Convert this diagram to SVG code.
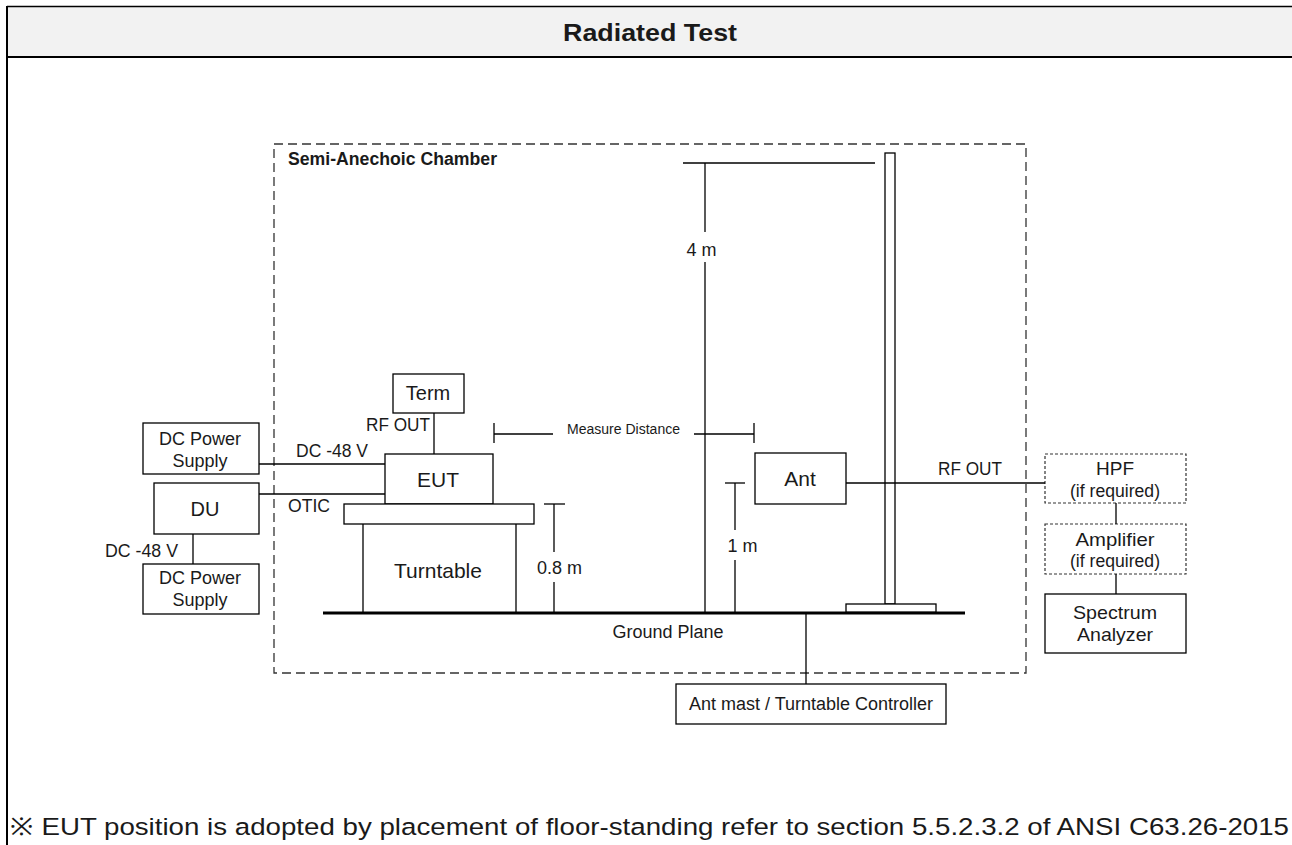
<svg xmlns="http://www.w3.org/2000/svg" width="1292" height="845" viewBox="0 0 1292 845">
<style>
text{font-family:"Liberation Sans",Arial,sans-serif;fill:#1a1a1a}
.t{font-size:20px;text-anchor:middle}
.s{font-size:18px}
.m{text-anchor:middle}
.box{fill:#fff;stroke:#000;stroke-width:1.3}
.dbox{fill:#fff;stroke:#333;stroke-width:1.2;stroke-dasharray:3,2}
.ln{stroke:#000;stroke-width:1.3;fill:none}
</style>
<rect x="0" y="0" width="1292" height="845" fill="#fff"/>
<rect x="7" y="6.5" width="1290" height="50" fill="#f2f2f2"/>
<line x1="7" y1="6.5" x2="1292" y2="6.5" stroke="#000" stroke-width="1.3"/>
<line x1="7" y1="57" x2="1292" y2="57" stroke="#000" stroke-width="2.2"/>
<line x1="7" y1="6" x2="7" y2="845" stroke="#000" stroke-width="2"/>
<text x="650" y="40.5" font-size="24" font-weight="bold" text-anchor="middle" textLength="174" lengthAdjust="spacingAndGlyphs">Radiated Test</text>

<g id="chamber">
<rect x="274" y="144" width="752" height="529" fill="none" stroke="#333" stroke-width="1.3" stroke-dasharray="9,5"/>
<text x="288" y="165" font-size="17.5" font-weight="bold" textLength="209" lengthAdjust="spacingAndGlyphs">Semi-Anechoic Chamber</text>
</g>

<g id="ground">
<line x1="323" y1="613" x2="965" y2="613" stroke="#000" stroke-width="3"/>
<text x="668" y="637.5" class="s m" textLength="111" lengthAdjust="spacingAndGlyphs">Ground Plane</text>
</g>

<g id="mast">
<rect x="885" y="153" width="10" height="451" class="box"/>
<rect x="846" y="604" width="90" height="8" class="box"/>
</g>

<g id="term"><rect x="393" y="374" width="71" height="39" class="box"/><text x="428" y="400" class="t">Term</text></g>
<g id="eut"><rect x="385" y="454" width="108" height="50" class="box"/><text x="438" y="486.5" font-size="21" class="m">EUT</text></g>
<g id="turntable">
<rect x="344" y="504" width="190" height="20" class="box"/>
<line x1="363" y1="524" x2="363" y2="613" class="ln"/>
<line x1="516" y1="524" x2="516" y2="613" class="ln"/>
<text x="438" y="577.5" font-size="21" class="m">Turntable</text>
</g>
<g id="dcps1"><rect x="143" y="423" width="116" height="51" class="box"/><text x="200" y="444.5" class="s m">DC Power</text><text x="200" y="466.5" class="s m">Supply</text></g>
<g id="du"><rect x="154" y="483" width="105" height="51" class="box"/><text x="205" y="515.5" class="t">DU</text></g>
<g id="dcps2"><rect x="143" y="564" width="116" height="50" class="box"/><text x="200" y="583.5" class="s m">DC Power</text><text x="200" y="605.5" class="s m">Supply</text></g>
<g id="ant"><rect x="755" y="453" width="91" height="51" class="box"/><text x="800" y="486" font-size="21" class="m">Ant</text></g>
<g id="hpf"><rect x="1045" y="454" width="141" height="49" class="dbox"/><text x="1115" y="474.5" font-size="19" class="m">HPF</text><text x="1115" y="496.5" font-size="18" class="m" textLength="90" lengthAdjust="spacingAndGlyphs">(if required)</text></g>
<g id="amp"><rect x="1045" y="524" width="141" height="50" class="dbox"/><text x="1115" y="545.5" font-size="19" class="m" textLength="79" lengthAdjust="spacingAndGlyphs">Amplifier</text><text x="1115" y="566.5" font-size="18" class="m" textLength="90" lengthAdjust="spacingAndGlyphs">(if required)</text></g>
<g id="sa"><rect x="1045" y="594" width="141" height="59" class="box"/><text x="1115" y="618.5" font-size="19" class="m" textLength="84" lengthAdjust="spacingAndGlyphs">Spectrum</text><text x="1115" y="640.5" font-size="19" class="m" textLength="76" lengthAdjust="spacingAndGlyphs">Analyzer</text></g>
<g id="controller"><rect x="676" y="684" width="270" height="40" class="box"/><text x="811" y="709.5" class="s m" textLength="244" lengthAdjust="spacingAndGlyphs">Ant mast / Turntable Controller</text></g>

<g id="connectors">
<line x1="434" y1="413" x2="434" y2="454" class="ln"/>
<line x1="259" y1="464" x2="385" y2="464" class="ln"/>
<line x1="259" y1="494" x2="385" y2="494" class="ln"/>
<line x1="193" y1="534" x2="193" y2="564" class="ln"/>
<line x1="846" y1="483" x2="1045" y2="483" class="ln"/>
<line x1="1116" y1="503" x2="1116" y2="524" class="ln"/>
<line x1="1116" y1="574" x2="1116" y2="594" class="ln"/>
<line x1="806" y1="613" x2="806" y2="684" class="ln"/>
<line x1="683" y1="163" x2="875" y2="163" class="ln"/>
<line x1="705" y1="163" x2="705" y2="232" class="ln"/>
<line x1="705" y1="262" x2="705" y2="613" class="ln"/>
<line x1="494" y1="423" x2="494" y2="443" class="ln"/>
<line x1="494" y1="434" x2="553" y2="434" class="ln"/>
<line x1="694" y1="434" x2="754" y2="434" class="ln"/>
<line x1="754" y1="423" x2="754" y2="443" class="ln"/>
<line x1="544" y1="504" x2="565" y2="504" class="ln"/>
<line x1="554" y1="504" x2="554" y2="552" class="ln"/>
<line x1="554" y1="582" x2="554" y2="613" class="ln"/>
<line x1="725" y1="483" x2="745" y2="483" class="ln"/>
<line x1="735" y1="483" x2="735" y2="530" class="ln"/>
<line x1="735" y1="560" x2="735" y2="613" class="ln"/>
</g>

<g id="labels">
<text x="366" y="430.5" class="s" textLength="64" lengthAdjust="spacingAndGlyphs">RF OUT</text>
<text x="296" y="456.5" class="s" textLength="72" lengthAdjust="spacingAndGlyphs">DC -48 V</text>
<text x="288" y="511.5" class="s" textLength="42" lengthAdjust="spacingAndGlyphs">OTIC</text>
<text x="105" y="556.5" class="s" textLength="73" lengthAdjust="spacingAndGlyphs">DC -48 V</text>
<text x="623.5" y="433.5" font-size="14" class="m" textLength="113" lengthAdjust="spacingAndGlyphs">Measure Distance</text>
<text x="701.5" y="255.5" class="s m">4 m</text>
<text x="559.5" y="573.5" class="s m">0.8 m</text>
<text x="742.5" y="551.5" class="s m">1 m</text>
<text x="938" y="474.5" class="s" textLength="64" lengthAdjust="spacingAndGlyphs">RF OUT</text>
</g>

<text x="10" y="835" font-size="24.5" fill="#000" textLength="1279" lengthAdjust="spacingAndGlyphs">※ EUT position is adopted by placement of floor-standing refer to section 5.5.2.3.2 of ANSI C63.26-2015</text>
</svg>
